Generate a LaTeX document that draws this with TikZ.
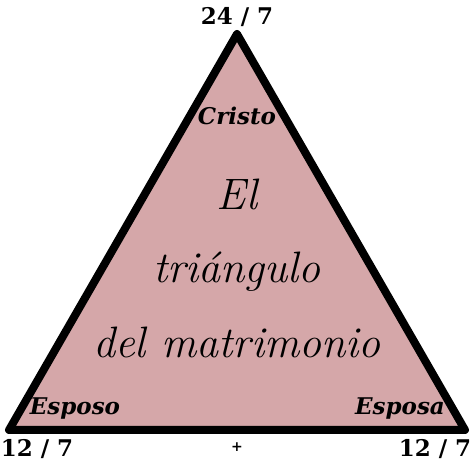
\documentclass[tikz,border=0pt]{standalone}
\usepackage{fontspec}
\usepackage{tikz}
\usetikzlibrary{positioning}
\newfontfamily\slabfont{DejaVu Serif}
\definecolor{rosewood}{RGB}{213,167,169}

\begin{document}
\begin{tikzpicture}
  [x=1pt,y=1pt,
   every node/.style={inner sep=0pt,text=black},
   num/.style={font=\slabfont\bfseries\fontsize{23}{26}\selectfont,anchor=base},
   who/.style={font=\slabfont\bfseries\itshape\fontsize{23}{26}\selectfont,anchor=base},
   title/.style={font=\itshape\fontsize{44}{50}\selectfont,anchor=base}]
  \useasboundingbox (0,0) rectangle (474,463);
  \coordinate (top) at (237,429);
  \coordinate (left) at (9,33);
  \coordinate (right) at (465,33);
  \draw[line width=8pt,line join=round,fill=rosewood] (top) -- (left) -- (right) -- cycle;
  \node[num] (t1) at (237,438) {24 / 7};
  \node[num] (l1) at (37,6) {12 / 7};
  \node[num] (r1) at (435,6) {12 / 7};
  \node[anchor=base,font=\slabfont\bfseries\fontsize{14}{16}\selectfont] (plus) at (237,11) {+};
  \node[who] (n0) at (237,338) {Cristo};
  \node[who] (n1) at (75,48) {Esposo};
  \node[who] (n2) at (400,48) {Esposa};
  \node[title] (h1) at (237,253) {El};
  \node[title] (h2) at (237,180) {triángulo};
  \node[title] (h3) at (237,105) {del matrimonio};
\end{tikzpicture}
\end{document}
